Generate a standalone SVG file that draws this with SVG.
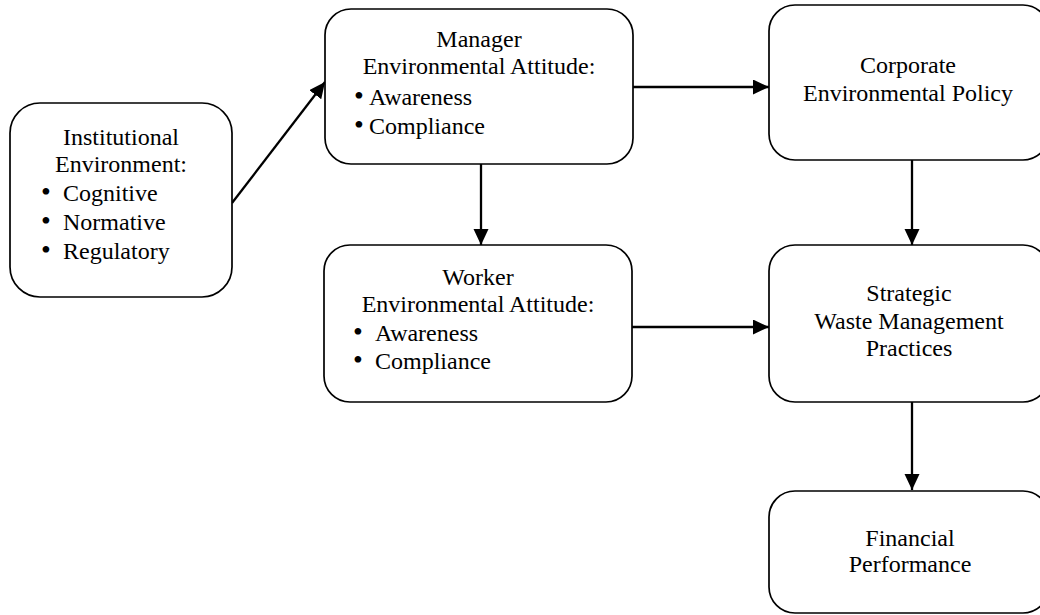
<svg xmlns="http://www.w3.org/2000/svg" width="1040" height="615" viewBox="0 0 1040 615">
<style>
.box{fill:#fff;stroke:#000;stroke-width:1.7}
.t{font-family:"Liberation Serif","Times New Roman",serif;font-size:24px;fill:#000}
.c{text-anchor:middle}
.b{font-size:28px}
.con{stroke:#000;stroke-width:2.3;fill:none}
</style>
<defs>
<marker id="arr" markerUnits="userSpaceOnUse" markerWidth="16" markerHeight="16" refX="16" refY="7.5" orient="auto">
<path d="M0,0 L16,7.5 L0,15 Z" fill="#000"/>
</marker>
</defs>
<rect width="1040" height="615" fill="#fff"/>
<g id="connectors">
<line class="con" x1="232" y1="203" x2="325" y2="82" marker-end="url(#arr)"/>
<line class="con" x1="633" y1="87" x2="769" y2="87" marker-end="url(#arr)"/>
<line class="con" x1="481" y1="164" x2="481" y2="245" marker-end="url(#arr)"/>
<line class="con" x1="632" y1="327" x2="769" y2="327" marker-end="url(#arr)"/>
<line class="con" x1="912" y1="160" x2="912" y2="245" marker-end="url(#arr)"/>
<line class="con" x1="912" y1="402" x2="912" y2="490" marker-end="url(#arr)"/>
</g>
<g id="institutional">
<rect class="box" x="10" y="103" width="222" height="194" rx="30" ry="30"/>
<text class="t c" x="121" y="145">Institutional</text>
<text class="t c" x="121" y="172">Environment:</text>
<text class="t" x="41" y="201"><tspan class="b">•</tspan><tspan x="63">Cognitive</tspan></text>
<text class="t" x="41" y="230"><tspan class="b">•</tspan><tspan x="63">Normative</tspan></text>
<text class="t" x="41" y="259"><tspan class="b">•</tspan><tspan x="63">Regulatory</tspan></text>
</g>
<g id="manager">
<rect class="box" x="325" y="9" width="308" height="155" rx="26" ry="26"/>
<text class="t c" x="479" y="47">Manager</text>
<text class="t c" x="479" y="74">Environmental Attitude:</text>
<text class="t" x="354" y="105"><tspan class="b">•</tspan><tspan x="369">Awareness</tspan></text>
<text class="t" x="354" y="134"><tspan class="b">•</tspan><tspan x="369">Compliance</tspan></text>
</g>
<g id="worker">
<rect class="box" x="324" y="245" width="308" height="157" rx="26" ry="26"/>
<text class="t c" x="478" y="285">Worker</text>
<text class="t c" x="478" y="312">Environmental Attitude:</text>
<text class="t" x="353" y="341"><tspan class="b">•</tspan><tspan x="375">Awareness</tspan></text>
<text class="t" x="353" y="369"><tspan class="b">•</tspan><tspan x="375">Compliance</tspan></text>
</g>
<g id="corporate">
<rect class="box" x="769" y="5" width="280" height="155" rx="26" ry="26"/>
<text class="t c" x="908" y="73">Corporate</text>
<text class="t c" x="908" y="101">Environmental Policy</text>
</g>
<g id="strategic">
<rect class="box" x="769" y="245" width="280" height="157" rx="26" ry="26"/>
<text class="t c" x="909" y="301">Strategic</text>
<text class="t c" x="909" y="329">Waste Management</text>
<text class="t c" x="909" y="356">Practices</text>
</g>
<g id="financial">
<rect class="box" x="769" y="491" width="280" height="122" rx="26" ry="26"/>
<text class="t c" x="910" y="546">Financial</text>
<text class="t c" x="910" y="572">Performance</text>
</g>
</svg>
